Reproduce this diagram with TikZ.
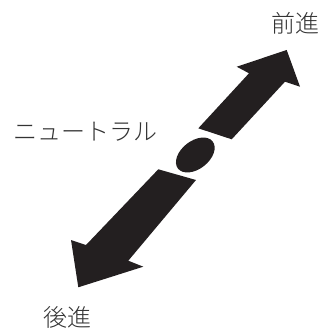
\documentclass[tikz,border=0pt]{standalone}
\usepackage{fontspec}
\newfontfamily\jpfont{Noto Sans CJK JP Light}
\usetikzlibrary{shapes.geometric}

\definecolor{inkblack}{HTML}{231F20}
\tikzset{
  label text/.style={text=black!80, font=\jpfont\fontsize{24}{28}\selectfont, inner sep=0pt},
  big arrow/.style={fill=inkblack, draw=none},
  neutral dot/.style={ellipse, fill=inkblack, minimum width=44pt, minimum height=28pt, inner sep=0pt}
}

\begin{document}
\begin{tikzpicture}[x=1pt, y=-1pt]
\useasboundingbox (0,0) rectangle (323,334);

\node [label text] (fwd)     at (295, 23)  {前進};
\node [label text] (neutral) at (85, 132)  {ニュートラル};
\node [label text] (rev)     at (67.5, 317) {後進};

% forward arrow
\fill [big arrow] (198.3,128.3) -- (249,73.3) -- (236.7,66.7) -- (286.7,50)
                  -- (300,86.7) -- (285,81.7) -- (231.7,139.3) -- cycle;

% neutral position
\node [neutral dot, rotate=38] (dot) at (195.3,155) {};

% reverse arrow
\fill [big arrow] (158.3,169.3) -- (196,180) -- (128.3,260.7) -- (143.3,266.7)
                  -- (78.3,287.3) -- (71,240) -- (86,245) -- cycle;

\end{tikzpicture}
\end{document}
